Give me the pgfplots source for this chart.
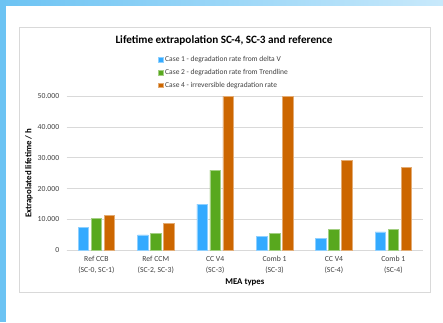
\documentclass[border=0pt]{standalone}
\usepackage{pgfplots}
\pgfplotsset{compat=1.18}
\usepackage{fontspec}
\setmainfont{Carlito}

\definecolor{caseblue}{RGB}{51,170,255}
\definecolor{casegreen}{RGB}{88,168,30}
\definecolor{caseorange}{RGB}{204,102,0}
\definecolor{gridgray}{RGB}{217,217,217}
\definecolor{stripL}{RGB}{108,195,243}
\definecolor{stripR}{RGB}{200,233,251}
\definecolor{ticktext}{RGB}{64,64,64}

\begin{document}
\begin{tikzpicture}[x=1pt,y=1pt]
% page background and frame
\fill[white] (0,0) rectangle (443,322);
\shade[left color=stripL, right color=stripR] (0,316) rectangle (443,322);
\fill[stripL] (0,0) rectangle (6,322);
\draw[gridgray, line width=1pt] (19,30) rectangle (430,294);

\begin{axis}[
    at={(66.7pt,71.7pt)}, anchor=south west,
    scale only axis,
    width=356.3pt, height=154pt,
    ybar=2.5pt, bar width=10.5pt,
    xmin=-0.5, xmax=5.5,
    ymin=0, ymax=50000,
    xtick=data,
    xticklabels={{Ref CCB\\(SC-0, SC-1)},{Ref CCM\\(SC-2, SC-3)},{CC V4\\(SC-3)},{Comb 1\\(SC-3)},{CC V4\\(SC-4)},{Comb 1\\(SC-4)}},
    ytick={0,10000,20000,30000,40000,50000},
    /pgf/number format/assume math mode=true,
    /pgf/number format/.cd, 1000 sep={.}, fixed, precision=0, /pgfplots/.cd,
    scaled y ticks=false,
    major tick length=0pt,
    axis line style={draw=none},
    ymajorgrids=true,
    grid style={gridgray, line width=0.9pt},
    extra y ticks={0}, extra y tick labels={},
    extra y tick style={grid style={gridgray, line width=1pt}},
    tick label style={font=\fontsize{7.7}{11}\selectfont, text=ticktext},
    xticklabel style={align=center, yshift=-2.5pt},
    yticklabel style={xshift=-4pt},
    xlabel={MEA types},
    ylabel={Extrapolated lifetime / h},
    label style={font=\fontsize{8.8}{10}\selectfont\bfseries},
    xlabel style={at={(axis description cs:0.5,-0.206)}, anchor=center},
    ylabel style={at={(axis description cs:-0.1058,0.5)}, anchor=center},
    title={Lifetime extrapolation SC-4, SC-3 and reference},
    title style={font=\fontsize{11.2}{13}\selectfont\bfseries, at={(axis description cs:0.4415,1.321)}, anchor=center},
    legend style={at={(axis description cs:0.2555,1.275)}, anchor=north west,
        draw=none, fill=none, font=\fontsize{7.5}{8.5}\selectfont, text=ticktext,
        row sep=2.2pt, inner sep=0pt},
    legend cell align=left,
    legend image code/.code={\fill[#1] (0pt,-2.4pt) rectangle (4.8pt,2.4pt);},
]
\addplot[fill=caseblue, draw=caseblue!55!white, line width=0.5pt]
  coordinates {(0,7500)(1,5000)(2,15000)(3,4600)(4,3800)(5,6000)};
\addlegendentry{Case 1 - degradation rate from delta V}
\addplot[fill=casegreen, draw=casegreen!55!white, line width=0.5pt]
  coordinates {(0,10400)(1,5600)(2,26000)(3,5500)(4,6700)(5,6700)};
\addlegendentry{Case 2 - degradation rate from Trendline}
\addplot[fill=caseorange, draw=caseorange!55!white, line width=0.5pt]
  coordinates {(0,11400)(1,8800)(2,50000)(3,50000)(4,29200)(5,27000)};
\addlegendentry{Case 4 - irreversible degradation rate}
\end{axis}
\end{tikzpicture}
\end{document}
